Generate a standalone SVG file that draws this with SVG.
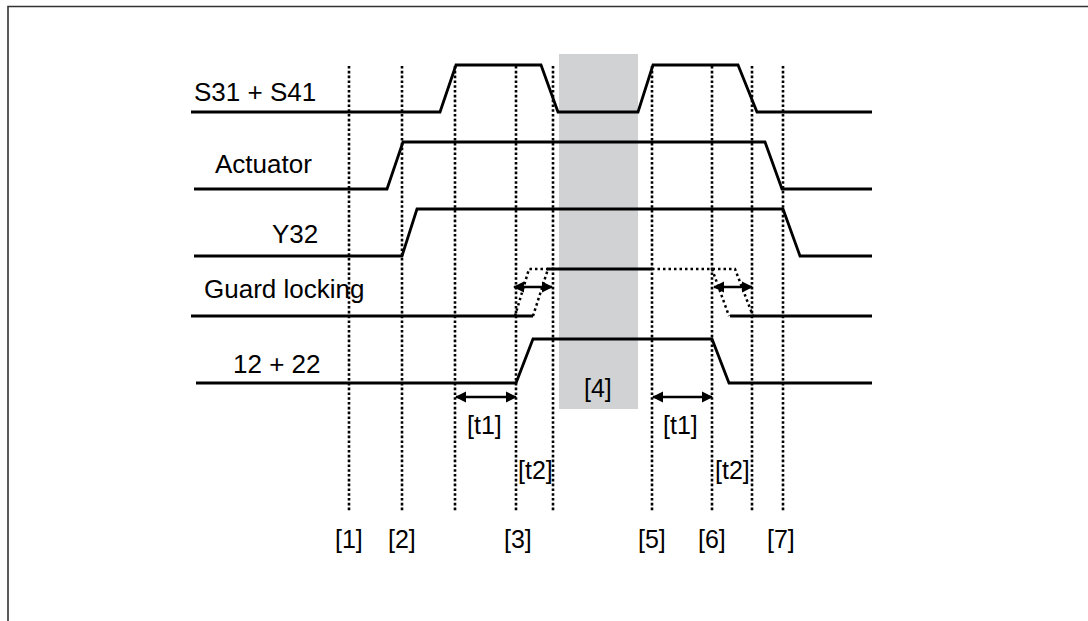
<svg xmlns="http://www.w3.org/2000/svg" width="1088" height="621" viewBox="0 0 1088 621">
<defs>
<style>
.sig{fill:none;stroke:#000;stroke-width:2.8;stroke-linejoin:miter}
.dot{fill:none;stroke:#000;stroke-width:2.6;stroke-dasharray:2.6 2.2}
.dsig{fill:none;stroke:#000;stroke-width:2.5;stroke-dasharray:2.5 3}
.arr{fill:none;stroke:#000;stroke-width:2.4;marker-start:url(#ah);marker-end:url(#ah)}
.lbl{font-family:"Liberation Sans",Arial,sans-serif;font-size:26px;fill:#000}
.br{font-family:"Liberation Sans",Arial,sans-serif;font-size:25px;fill:#000}
</style>
<marker id="ah" viewBox="0 0 10 10" refX="9" refY="5" markerWidth="4.8" markerHeight="4.8" orient="auto-start-reverse" markerUnits="strokeWidth">
<path d="M0,0 L10,5 L0,10 z" fill="#000"/>
</marker>
</defs>
<rect width="1088" height="621" fill="#fff"/>
<g id="frame">
<path d="M8,621 L8,6.5 L1088,6.5" fill="none" stroke="#333" stroke-width="1.6"/>
</g>
<g id="shade4">
<rect x="559" y="54" width="79" height="355" fill="#d1d2d4"/>
<text class="br" x="584" y="397">[4]</text>
</g>
<g id="gridlines">
<line class="dot" x1="349" y1="66" x2="349" y2="511"/>
<line class="dot" x1="402" y1="66" x2="402" y2="511"/>
<line class="dot" x1="455" y1="66" x2="455" y2="511"/>
<line class="dot" x1="516" y1="66" x2="516" y2="511"/>
<line class="dot" x1="553" y1="66" x2="553" y2="511"/>
<line class="dot" x1="652" y1="66" x2="652" y2="511"/>
<line class="dot" x1="712" y1="66" x2="712" y2="511"/>
<line class="dot" x1="752" y1="66" x2="752" y2="511"/>
<line class="dot" x1="783" y1="66" x2="783" y2="511"/>
</g>
<g id="sig-s31s41">
<text class="lbl" x="194" y="101">S31 + S41</text>
<polyline class="sig" points="191,112 440,112 456,65 541,65 558,112 638,112 653,65 738,65 757,112 872,112"/>
</g>
<g id="sig-actuator">
<text class="lbl" x="215" y="173">Actuator</text>
<polyline class="sig" points="194,189 387,189 403,142 765,142 782,189 872,189"/>
</g>
<g id="sig-y32">
<text class="lbl" x="272" y="243">Y32</text>
<polyline class="sig" points="194,256 402,256 417,209 783,209 800,256 872,256"/>
</g>
<g id="sig-guard">
<text class="lbl" x="204" y="298">Guard locking</text>
<polyline class="sig" points="191,316 533,316"/>
<polyline class="sig" points="547,269 652,269"/>
<polyline class="sig" points="730,316 872,316"/>
<polyline class="dsig" points="515,316 529,269 548,269"/>
<polyline class="dsig" points="533,316 548,269"/>
<polyline class="dsig" points="652,269 735,269 753,316"/>
<polyline class="dsig" points="712,269 729,316"/>
</g>
<g id="sig-1222">
<text class="lbl" x="233" y="373">12 + 22</text>
<polyline class="sig" points="196,383 516,383 533,339 712,339 729,383 872,383"/>
</g>
<g id="connectors">
<line class="arr" x1="514" y1="287" x2="552" y2="287"/>
<line class="arr" x1="714" y1="287" x2="752" y2="287"/>
<line class="arr" x1="456" y1="397" x2="516" y2="397"/>
<line class="arr" x1="653" y1="397" x2="712" y2="397"/>
</g>
<g id="labels">
<text class="br" x="467" y="434">[t1]</text>
<text class="br" x="663" y="434">[t1]</text>
<text class="br" x="518" y="479">[t2]</text>
<text class="br" x="715" y="479">[t2]</text>
<text class="br" x="335" y="548">[1]</text>
<text class="br" x="388" y="548">[2]</text>
<text class="br" x="504" y="548">[3]</text>
<text class="br" x="638" y="548">[5]</text>
<text class="br" x="698" y="548">[6]</text>
<text class="br" x="767" y="548">[7]</text>
</g>
</svg>
